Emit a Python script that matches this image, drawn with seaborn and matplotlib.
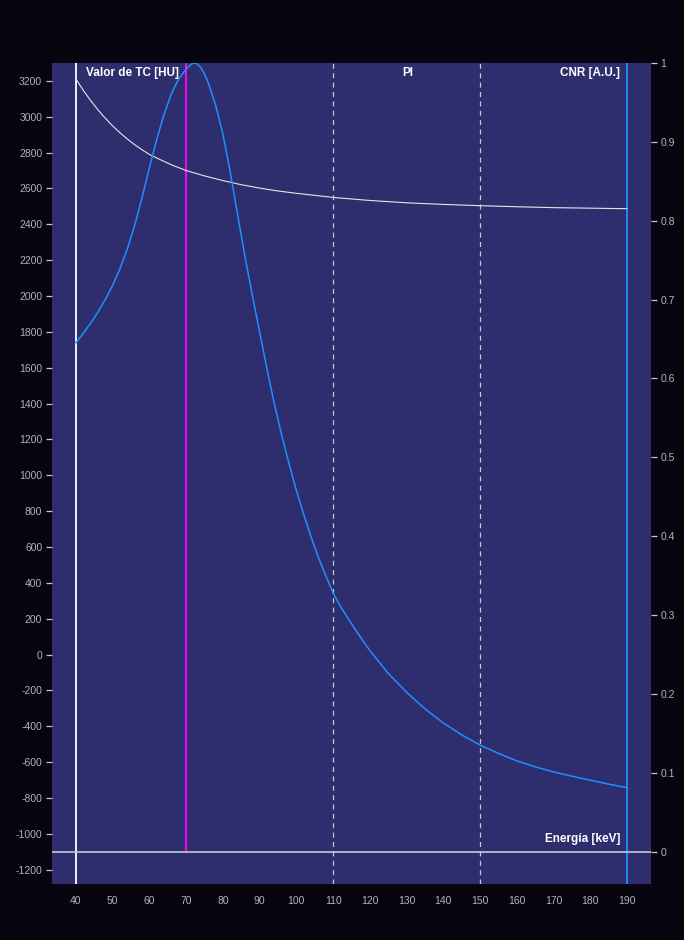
import matplotlib
matplotlib.use("Agg")
import pandas as pd
import seaborn as sns
import matplotlib.pyplot as plt

# valores
energia_hu = [40, 42, 44, 46, 48, 50, 52, 54, 56, 58, 60, 62, 64, 66, 68, 70, 75, 80,
              85, 90, 95, 100, 110, 120, 130, 140, 150, 160, 170, 180, 190]
valor_tc = [3211, 3148, 3091, 3039, 2992, 2949, 2911, 2876, 2844, 2816, 2790, 2770,
            2751, 2732, 2716, 2700, 2670, 2644, 2621, 2602, 2586, 2573, 2550, 2533,
            2520, 2511, 2504, 2498, 2493, 2490, 2487]

energia_cnr = [40, 42, 44, 46, 48, 50, 52, 54, 56, 58, 60, 62, 64, 66, 68, 70, 71, 72,
               73, 74, 75, 76, 78, 80, 82, 84, 86, 88, 90, 92, 94, 96, 98, 100, 102,
               104, 106, 108, 110, 112, 114, 116, 118, 120, 125, 130, 135, 140, 145,
               150, 155, 160, 165, 170, 175, 180, 185, 190]
cnr = [0.645, 0.657, 0.670, 0.684, 0.700, 0.718, 0.739, 0.764, 0.794, 0.829, 0.867,
       0.903, 0.935, 0.961, 0.980, 0.992, 0.997, 1.000, 0.999, 0.994, 0.986, 0.975,
       0.947, 0.910, 0.862, 0.808, 0.755, 0.706, 0.659, 0.612, 0.568, 0.528, 0.492,
       0.458, 0.4275, 0.399, 0.373, 0.350, 0.328, 0.311, 0.296, 0.282, 0.268, 0.255,
       0.226, 0.202, 0.181, 0.163, 0.148, 0.135, 0.1245, 0.115, 0.1075, 0.101, 0.0955,
       0.0905, 0.0855, 0.081]

x_ticks = list(range(40, 191, 10))
hu_ticks = list(range(-1200, 3201, 200))
cnr_ticks = [0, 0.1, 0.2, 0.3, 0.4, 0.5, 0.6, 0.7, 0.8, 0.9, 1]
cnr_labels = ["0", "0.1", "0.2", "0.3", "0.4", "0.5", "0.6", "0.7", "0.8", "0.9", "1"]

e_min, e_max = 40, 190
e_opt = 70          # linea magenta
lineas_pi = [110, 150]
hu_base = -1100     # corresponde a CNR = 0

fondo = "#05040f"
panel = "#2e2d6e"
gris = "#c8c8c8"
azul = "#1e90ff"

sns.set_style("dark", rc={"axes.facecolor": panel, "figure.facecolor": fondo,
                          "axes.edgecolor": panel, "axes.grid": False})
plt.rcParams["font.family"] = ["Liberation Sans", "DejaVu Sans"]
plt.rcParams["axes.unicode_minus"] = False

df_hu = pd.DataFrame({"energia": energia_hu, "hu": valor_tc})
df_cnr = pd.DataFrame({"energia": energia_cnr, "cnr": cnr})

fig = plt.figure(figsize=(6.84, 9.40), dpi=100, facecolor=fondo)
ax = fig.add_axes([0.076, 0.0596, 0.8757, 0.8734])
ax.set_facecolor(panel)
ax2 = ax.twinx()

ax.set_xlim(33.5, 196.5)
ax.set_ylim(-1280, 3300)
ax2.set_ylim(-0.0411, 1.0)

# lineas de referencia
ax.axvline(e_min, color="white", lw=1.3, zorder=2)
ax.axvline(e_max, color=azul, lw=1.3, zorder=2)
for e in lineas_pi:
    ax.axvline(e, color=gris, lw=0.9, dashes=(4, 3.5), zorder=2)
ax.vlines(e_opt, hu_base, 3300, color="#ff00ff", lw=1.4, zorder=2)
ax.axhline(hu_base, color=gris, lw=1.2, zorder=2)

sns.lineplot(data=df_hu, x="energia", y="hu", ax=ax, color="#e6e6e6", lw=0.8, zorder=3)
sns.lineplot(data=df_cnr, x="energia", y="cnr", ax=ax2, color=azul, lw=1.1, zorder=3)

ax.set_xticks(x_ticks)
ax.set_yticks(hu_ticks)
ax2.set_yticks(cnr_ticks)
ax2.set_yticklabels(cnr_labels)
for a in (ax, ax2):
    a.set_xlabel("")
    a.set_ylabel("")
    a.tick_params(colors=gris, labelcolor="#b4b4b4", length=4, width=0.9,
                  labelsize=7.5, pad=3)
    for s in a.spines.values():
        s.set_visible(False)
ax.tick_params(axis="x", pad=5)

txt = dict(color="white", fontsize=8.5, fontweight="bold")
ax.annotate("Valor de TC [HU]", xy=(e_min, 1), xycoords=("data", "axes fraction"),
            xytext=(7, -3), textcoords="offset points", ha="left", va="top", **txt)
ax.annotate("PI", xy=(sum(lineas_pi) / 2, 1), xycoords=("data", "axes fraction"),
            xytext=(1, -3), textcoords="offset points", ha="center", va="top", **txt)
ax.annotate("CNR [A.U.]", xy=(e_max, 1), xycoords=("data", "axes fraction"),
            xytext=(-5, -3), textcoords="offset points", ha="right", va="top", **txt)
ax.annotate("Energía [keV]", xy=(e_max, hu_base), xycoords="data",
            xytext=(-5, 5), textcoords="offset points", ha="right", va="bottom", **txt)

fig.savefig("out.png", dpi=100, facecolor=fondo)
